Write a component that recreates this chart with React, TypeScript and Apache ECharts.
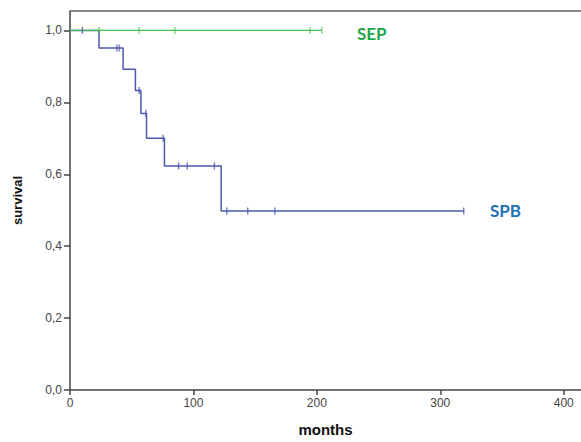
import React, { useEffect, useRef } from "react";
import * as echarts from "echarts";

// SPB Kaplan-Meier steps: [month, survival after event]
const spbEvents: [number, number][] = [
  [0, 1.0],
  [23.5, 0.951],
  [43, 0.892],
  [53, 0.833],
  [57.5, 0.769],
  [62, 0.7],
  [76.5, 0.623],
  [122.5, 0.498],
  [319, 0.498],
];
const spbCensored: number[] = [10, 38, 40, 56, 61.5, 75.5, 88, 95, 117, 127, 144, 166, 319];

const sepEvents: [number, number][] = [
  [0, 1.0],
  [204, 1.0],
];
const sepCensored: number[] = [23.5, 56, 85, 194.5, 204];

const xTicks = [0, 100, 200, 300, 400];
const yTicks = [0, 0.2, 0.4, 0.6, 0.8, 1.0];

const SPB_LINE = "#4a58b0";
const SEP_LINE = "#46bf4a";

function survivalAt(events: [number, number][], t: number): number {
  let v = events[0][1];
  for (const [x, y] of events) {
    if (x <= t) v = y;
  }
  return v;
}

export default function App() {
  const ref = useRef<HTMLDivElement>(null);
  useEffect(() => {
    if (!ref.current) return;
    const chart = echarts.init(ref.current, null, { renderer: "svg" });
    const tickSym = "rect";
    chart.setOption({
      animation: false,
      backgroundColor: "#ffffff",
      grid: { left: 70, right: 0, top: 11, bottom: 46, containLabel: false },
      xAxis: {
        type: "value",
        min: 0,
        max: 414,
        name: "months",
        nameLocation: "middle",
        nameGap: 32,
        nameTextStyle: { fontFamily: "Liberation Sans", fontWeight: "bold", fontSize: 15, color: "#111" },
        axisLine: { show: true, lineStyle: { color: "#444", width: 1.5 } },
        axisTick: { show: true, inside: false, length: 5, customValues: xTicks, lineStyle: { color: "#444", width: 1.5 } },
        axisLabel: {
          customValues: xTicks,
          margin: 7,
          fontFamily: "Liberation Sans",
          fontSize: 12,
          color: "#444",
          formatter: (v: number) => String(v),
        },
        splitLine: { show: false },
      },
      yAxis: {
        type: "value",
        min: 0,
        max: 1.054,
        name: "survival",
        nameLocation: "middle",
        nameGap: 46,
        nameTextStyle: { fontFamily: "Liberation Sans", fontWeight: "bold", fontSize: 13, color: "#111" },
        axisLine: { show: true, lineStyle: { color: "#444", width: 1.5 } },
        axisTick: { show: true, inside: false, length: 6, customValues: yTicks, lineStyle: { color: "#444", width: 1.5 } },
        axisLabel: {
          customValues: yTicks,
          margin: 8,
          fontFamily: "Liberation Sans",
          fontSize: 12,
          color: "#444",
          formatter: (v: number) => v.toFixed(1).replace(".", ","),
        },
        splitLine: { show: false },
      },
      graphic: [
        {
          type: "line",
          shape: { x1: 70, y1: 11, x2: 581, y2: 11 },
          style: { stroke: "#8a8a8a", lineWidth: 2 },
        },
        {
          type: "text",
          x: 357,
          y: 33,
          style: {
            text: "SEP",
            fill: "#22a84c",
            font: "bold 17px Lato",
            textVerticalAlign: "middle",
          },
        },
        {
          type: "text",
          x: 490,
          y: 210,
          style: {
            text: "SPB",
            fill: "#1d72b8",
            font: "bold 17px Lato",
            textVerticalAlign: "middle",
          },
        },
      ],
      series: [
        {
          name: "SPB",
          type: "line",
          step: "end",
          data: spbEvents,
          showSymbol: false,
          lineStyle: { color: SPB_LINE, width: 1.5 },
          z: 2,
        },
        {
          name: "SEP",
          type: "line",
          step: "end",
          data: sepEvents,
          showSymbol: false,
          lineStyle: { color: SEP_LINE, width: 1.2 },
          z: 3,
        },
        {
          name: "SPB censored",
          type: "scatter",
          data: spbCensored.map((t) => [t, survivalAt(spbEvents, t)]),
          symbol: tickSym,
          symbolSize: [1.4, 7],
          itemStyle: { color: SPB_LINE },
          z: 4,
        },
        {
          name: "SEP censored",
          type: "scatter",
          data: sepCensored.map((t) => [t, survivalAt(sepEvents, t)]),
          symbol: tickSym,
          symbolSize: [1.2, 7],
          itemStyle: { color: SEP_LINE },
          z: 5,
        },
      ],
    });
    return () => chart.dispose();
  }, []);
  return <div ref={ref} style={{ width: 581, height: 442, position: "absolute", left: 0, top: 0 }} />;
}
